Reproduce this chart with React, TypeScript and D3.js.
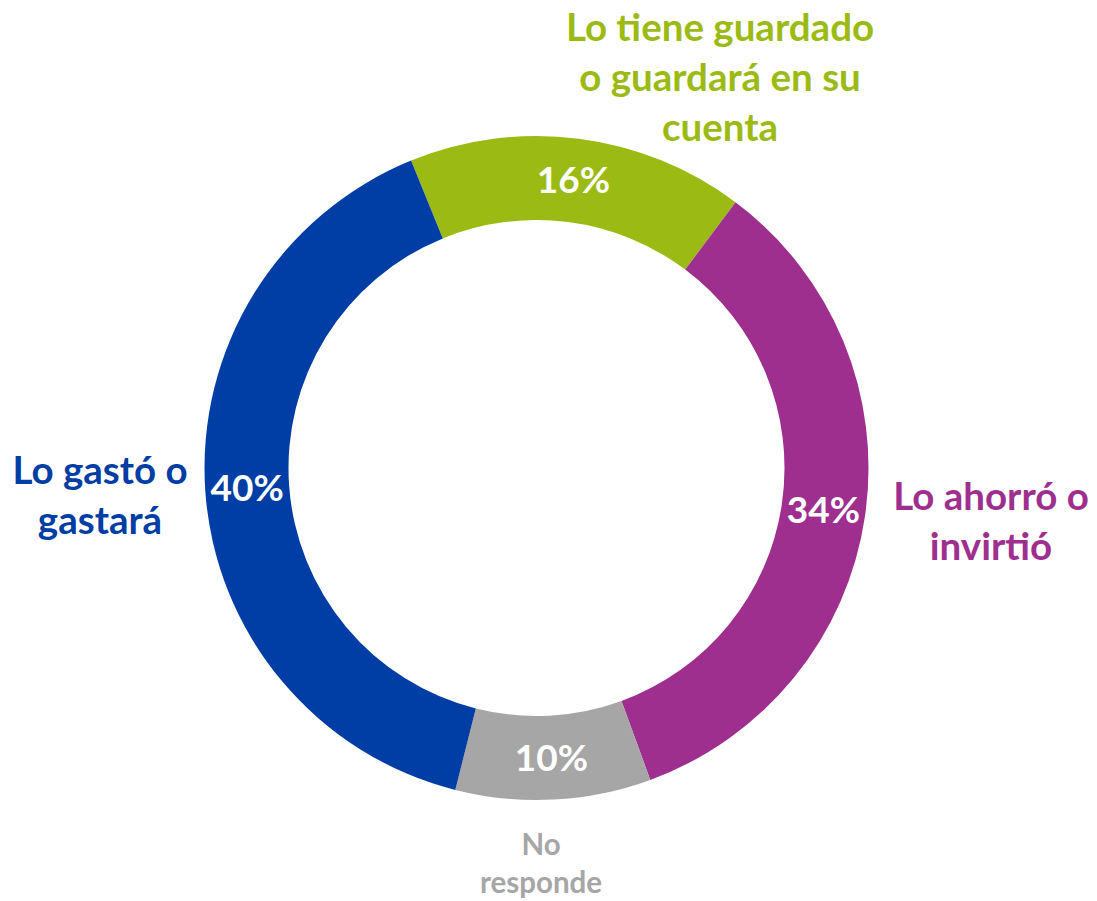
import React from "react";
import * as d3 from "d3";

const categories = ["Lo tiene guardado o guardará en su cuenta", "Lo ahorró o invirtió", "No responde", "Lo gastó o gastará"];
const values = [16.4, 34.2, 9.5, 39.9];
const colors = ["#9BBB14", "#9E2F8F", "#A6A6A6", "#003DA5"];
const labelLines = [
  ["Lo tiene guardado", "o guardará en su", "cuenta"],
  ["Lo ahorró o", "invirtió"],
  ["No", "responde"],
  ["Lo gastó o", "gastará"],
];

const W = 1097;
const H = 901;
const cx = 536.5;
const cy = 468;
const rOuter = 332;
const rInner = 248;
const startDeg = -22.2;

const labelPos = [
  { x: 720, y: 41, size: 38.5, lh: 50 },
  { x: 991, y: 510, size: 38.5, lh: 50 },
  { x: 541, y: 855, size: 29.5, lh: 38 },
  { x: 100, y: 484, size: 38.5, lh: 50 },
];

export default function App() {
  const pie = d3
    .pie<number>()
    .sort(null)
    .value((d) => d)
    .startAngle((startDeg * Math.PI) / 180)
    .endAngle(((startDeg + 360) * Math.PI) / 180);
  const arcs = pie(values);
  const arc = d3.arc<d3.PieArcDatum<number>>().innerRadius(rInner).outerRadius(rOuter);
  const font = "Lato, 'Open Sans', sans-serif";
  return (
    <svg width={W} height={H} style={{ position: "absolute", left: 0, top: 0 }}>
      <rect width={W} height={H} fill="#fff" />
      <g transform={`translate(${cx},${cy})`}>
        {arcs.map((a, i) => (
          <path key={categories[i]} d={arc(a) || ""} fill={colors[i]} />
        ))}
        {arcs.map((a, i) => {
          const [x, y] = arc.centroid(a);
          return (
            <text
              key={"p" + i}
              x={x}
              y={y}
              dy="0.35em"
              textAnchor="middle"
              fill="#fff"
              fontFamily={font}
              fontWeight={700}
              fontSize={37}
            >
              {Math.round(values[i])}%
            </text>
          );
        })}
      </g>
      {labelLines.map((lines, i) => (
        <text
          key={"l" + i}
          textAnchor="middle"
          fill={colors[i]}
          fontFamily={font}
          fontWeight={700}
          fontSize={labelPos[i].size}
        >
          {lines.map((ln, j) => (
            <tspan key={j} x={labelPos[i].x} y={labelPos[i].y + j * labelPos[i].lh}>
              {ln}
            </tspan>
          ))}
        </text>
      ))}
    </svg>
  );
}
